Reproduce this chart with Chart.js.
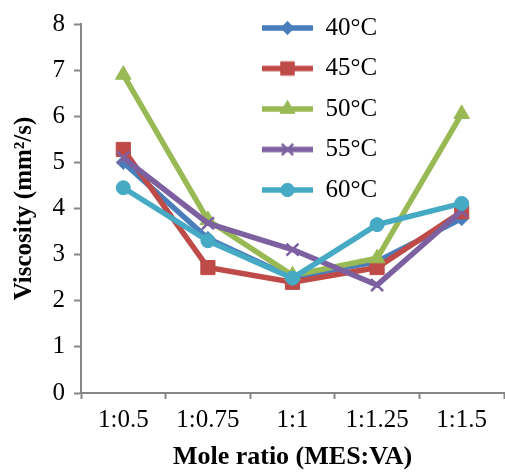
<!DOCTYPE html>
<html>
<head>
<meta charset="utf-8">
<script src="https://cdn.jsdelivr.net/npm/chart.js@4"></script>
<style>
  html, body { margin: 0; padding: 0; background: #fff; overflow: hidden; width: 505px; height: 473px; }
  #wrap { position: relative; width: 505px; height: 473px; overflow: hidden; }
  canvas { display: block; }
</style>
</head>
<body>
<div id="wrap"><canvas id="c" width="515" height="473"></canvas></div>
<script>
const categories = ['1:0.5', '1:0.75', '1:1', '1:1.25', '1:1.5'];
const seriesNames = ['40°C', '45°C', '50°C', '55°C', '60°C'];
const v40 = [5.0, 3.35, 2.5, 2.85, 3.78];
const v45 = [5.28, 2.72, 2.4, 2.72, 3.93];
const v50 = [6.9, 3.75, 2.55, 2.92, 6.05];
const v55 = [5.1, 3.68, 3.11, 2.34, 3.95];
const v60 = [4.45, 3.3, 2.49, 3.65, 4.11];
const yTicks = [0, 1, 2, 3, 4, 5, 6, 7, 8];

const seriesValues = [v40, v45, v50, v55, v60];
const colors = ['#4a7ebb', '#be4b48', '#98b954', '#7d60a0', '#46aac5'];
const styles = ['rectRot', 'rect', 'triangle', 'crossRot', 'circle'];
const radii = [7, 10, 9, 8.5, 7];
const pBorder = [1, 1, 1, 2.5, 1];

const datasets = seriesValues.map((vals, i) => ({
  label: seriesNames[i],
  data: vals,
  borderColor: colors[i],
  backgroundColor: colors[i],
  borderWidth: 5.5,
  pointStyle: styles[i],
  pointRadius: radii[i],
  pointBorderWidth: pBorder[i],
  pointBackgroundColor: colors[i],
  pointBorderColor: colors[i],
  tension: 0,
  order: 10 - i
}));

function legendIcon(i) {
  const cv = document.createElement('canvas');
  cv.width = 51; cv.height = 22;
  const ctx = cv.getContext('2d');
  ctx.strokeStyle = colors[i];
  ctx.fillStyle = colors[i];
  ctx.lineWidth = 5.5;
  ctx.beginPath();
  ctx.moveTo(0, 11); ctx.lineTo(51, 11);
  ctx.stroke();
  ctx.lineWidth = pBorder[i];
  Chart.helpers.drawPoint(ctx, { pointStyle: styles[i], radius: radii[i] * 0.95, rotation: 0, borderWidth: pBorder[i] }, 25.5, 11);
  return cv;
}
const icons = seriesNames.map((_, i) => legendIcon(i));

const LEG_PAD = 15.5;
const LEG_FONT = 25;
const legendMover = {
  id: 'legendMover',
  afterLayout(chart) {
    const lg = chart.legend;
    if (!lg) return;
    const w = lg.width;
    lg.left = 262 - LEG_PAD;
    lg.top = 28 - LEG_FONT / 2 - LEG_PAD;
    lg.right = lg.left + w;
    lg.bottom = 393;
  }
};

const serif = "'Liberation Serif', 'Times New Roman', serif";

new Chart(document.getElementById('c'), {
  type: 'line',
  data: { labels: categories, datasets },
  plugins: [legendMover],
  options: {
    responsive: false,
    animation: false,
    layout: { padding: { left: 0, top: 20, right: 0, bottom: 0 } },
    plugins: {
      tooltip: { enabled: false },
      legend: {
        position: 'chartArea',
        align: 'start',
        labels: {
          usePointStyle: true,
          pointStyleWidth: 51,
          padding: LEG_PAD,
          color: '#000',
          font: { family: serif, size: LEG_FONT },
          generateLabels(chart) {
            return seriesNames.map((n, i) => ({
              text: n,
              pointStyle: icons[i],
              fillStyle: colors[i],
              strokeStyle: colors[i],
              lineWidth: 0,
              hidden: false,
              datasetIndex: i
            }));
          }
        }
      }
    },
    scales: {
      x: {
        type: 'category',
        offset: true,
        afterFit(s) { s.height = 80; },
        grid: { display: true, offset: true, drawOnChartArea: false, drawTicks: true, tickLength: 6, tickColor: '#868686', tickWidth: 2 },
        border: { display: true, color: '#868686', width: 2 },
        ticks: { color: '#000', font: { family: serif, size: 25 }, padding: 6, maxRotation: 0, autoSkip: false },
        title: { display: true, text: 'Mole ratio (MES:VA)', color: '#000', font: { family: serif, size: 26, weight: 'bold' }, padding: { top: 0, bottom: 0 } }
      },
      y: {
        min: 0, max: 8,
        afterFit(s) { s.width = 81; },
        afterBuildTicks(s) { s.ticks = yTicks.map(v => ({ value: v })); },
        grid: { display: true, drawOnChartArea: false, drawTicks: true, tickLength: 7, tickColor: '#868686', tickWidth: 2 },
        border: { display: true, color: '#868686', width: 2 },
        ticks: { color: '#000', font: { family: serif, size: 25 }, padding: 9 },
        title: { display: true, text: 'Viscosity (mm²/s)', color: '#000', font: { family: serif, size: 25, weight: 'bold' }, padding: { top: 10, bottom: 0 } }
      }
    }
  }
});
</script>
</body>
</html>
